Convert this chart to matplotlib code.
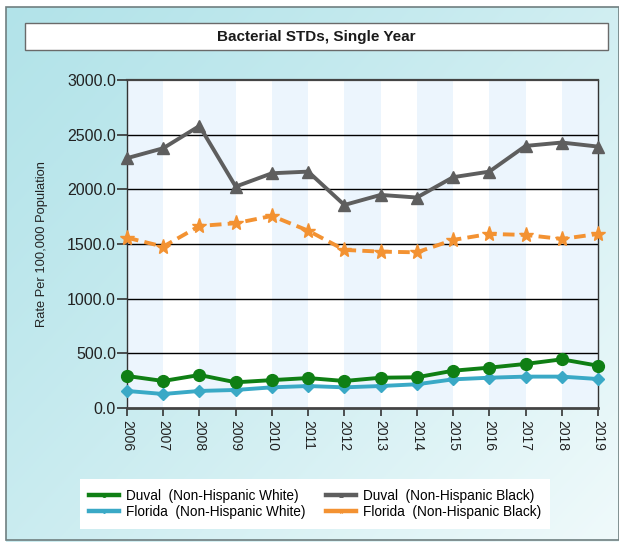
import numpy as np
import matplotlib
matplotlib.use("Agg")
import matplotlib.pyplot as plt
from matplotlib.patches import Rectangle
from matplotlib.lines import Line2D

plt.rcParams['font.family'] = ['Liberation Sans', 'DejaVu Sans']

years = [2006, 2007, 2008, 2009, 2010, 2011, 2012, 2013, 2014, 2015, 2016, 2017, 2018, 2019]
duval_white = [293, 247, 302, 235, 255, 274, 247, 277, 281, 341, 369, 403, 445, 387]
florida_white = [156, 128, 156, 165, 189, 201, 189, 201, 217, 262, 277, 287, 287, 265]
duval_black = [2285, 2376, 2580, 2025, 2147, 2162, 1857, 1949, 1925, 2111, 2162, 2397, 2428, 2391]
florida_black = [1558, 1476, 1665, 1690, 1757, 1622, 1446, 1430, 1424, 1537, 1592, 1583, 1546, 1592]
y_ticks = [0, 500, 1000, 1500, 2000, 2500, 3000]

title = "Bacterial STDs, Single Year"
ylabel = "Rate Per 100,000 Population"

W, H = 619, 542
fig = plt.figure(figsize=(W / 100, H / 100), dpi=100)

# gradient backdrop
bg = fig.add_axes([0, 0, 1, 1], zorder=-10)
gx, gy = np.meshgrid(np.linspace(0, 1, 300), np.linspace(0, 1, 300))
t = np.clip(0.55 * gx + 0.45 * gy, 0, 1) ** 1.2
c0 = np.array([0xb2, 0xe3, 0xe9]) / 255
c1 = np.array([0xf0, 0xfa, 0xfb]) / 255
img = c0[None, None, :] * (1 - t[..., None]) + c1[None, None, :] * t[..., None]
bg.imshow(img, extent=[0, 1, 0, 1], aspect='auto', origin='upper')
bg.set_xlim(0, 1)
bg.set_ylim(0, 1)
bg.axis('off')
# white outer margin and gray frame
fig.patches.append(Rectangle((0, 0), 6 / W, 1, facecolor='white', edgecolor='none',
                             transform=fig.transFigure))
fig.patches.append(Rectangle((0, 1 - 7 / H), 1, 7 / H, facecolor='white', edgecolor='none',
                             transform=fig.transFigure))
fig.patches.append(Rectangle((6 / W, 2 / H), (W - 6) / W, (H - 9) / H, fill=False,
                             edgecolor='#6f7f80', linewidth=1.2, transform=fig.transFigure))

# title box
fig.patches.append(Rectangle((25 / W, 1 - 50 / H), (608 - 25) / W, 27 / H,
                             facecolor='white', edgecolor='#6a6a6a', linewidth=1.0,
                             transform=fig.transFigure, zorder=1))
fig.text(316 / W, 1 - 37 / H, title, ha='center', va='center', fontsize=11,
         fontweight='bold', color='#1a1a1a', zorder=2)

left, right, top, bottom = 127, 598, 80, 408
ax = fig.add_axes([left / W, 1 - bottom / H, (right - left) / W, (bottom - top) / H])
ax.set_facecolor('white')

# alternating column bands
for i in range(len(years) - 1):
    if i % 2 == 0:
        ax.axvspan(years[i], years[i + 1], color='#ecf5fd', zorder=0, linewidth=0)

for v in y_ticks[1:-1]:
    ax.axhline(v, color='black', linewidth=1.0, zorder=1)

ax.set_xlim(years[0], years[-1])
ax.set_ylim(0, 3000)

ax.plot(years, duval_black, color='#5e5e5e', linewidth=2.8, marker='^', markersize=8.5,
        clip_on=False, zorder=4)
ax.plot(years, florida_black, color='#f39232', linewidth=2.8, linestyle=(0, (3, 1.6)),
        marker='*', markersize=11, clip_on=False, zorder=4)
ax.plot(years, duval_white, color='#0f7f14', linewidth=2.8, marker='o', markersize=8.5,
        clip_on=False, zorder=5)
ax.plot(years, florida_white, color='#3aa9c6', linewidth=2.8, marker='D', markersize=6.5,
        clip_on=False, zorder=4)

ax.set_yticks(y_ticks)
ax.set_yticklabels([f"{v:.1f}" for v in y_ticks], fontsize=11.5, color='#222222')
ax.set_xticks(years)
ax.set_xticklabels([str(y) for y in years], rotation=-90, fontsize=10, color='#222222')
ax.tick_params(axis='y', length=7, width=1.2, color='#333333', pad=1)
ax.tick_params(axis='x', length=6, width=1.2, color='#333333', pad=3)

ax.spines['top'].set_color('#444444')
ax.spines['top'].set_linewidth(1.6)
ax.spines['bottom'].set_color('#444444')
ax.spines['bottom'].set_linewidth(2.0)
for s in ('left', 'right'):
    ax.spines[s].set_color('#333333')
    ax.spines[s].set_linewidth(1.0)
    ax.spines[s].set_linestyle((0, (1, 1)))

fig.text(42 / W, 1 - 244 / H, ylabel, rotation=90, ha='center', va='center',
         fontsize=9.3, color='#222222')

handles = [
    Line2D([], [], color='#0f7f14', linewidth=3.2, marker='o', markersize=2.5),
    Line2D([], [], color='#3aa9c6', linewidth=3.2, marker='D', markersize=2),
    Line2D([], [], color='#5e5e5e', linewidth=3.2, marker='^', markersize=2.5),
    Line2D([], [], color='#f39232', linewidth=3.2, marker='*', markersize=3),
]
labels = ["Duval  (Non-Hispanic White)", "Florida  (Non-Hispanic White)",
          "Duval  (Non-Hispanic Black)", "Florida  (Non-Hispanic Black)"]
leg = fig.legend(handles, labels, ncol=2, loc='center',
                 bbox_to_anchor=(315 / W, 1 - 504 / H), fontsize=9.8,
                 frameon=True, fancybox=False, handlelength=2.2, handletextpad=0.5,
                 columnspacing=1.5, labelspacing=0.15, borderpad=0.7)
leg.get_frame().set_facecolor('white')
leg.get_frame().set_edgecolor('none')
leg.get_frame().set_alpha(1)

fig.savefig('out.png', dpi=100)
